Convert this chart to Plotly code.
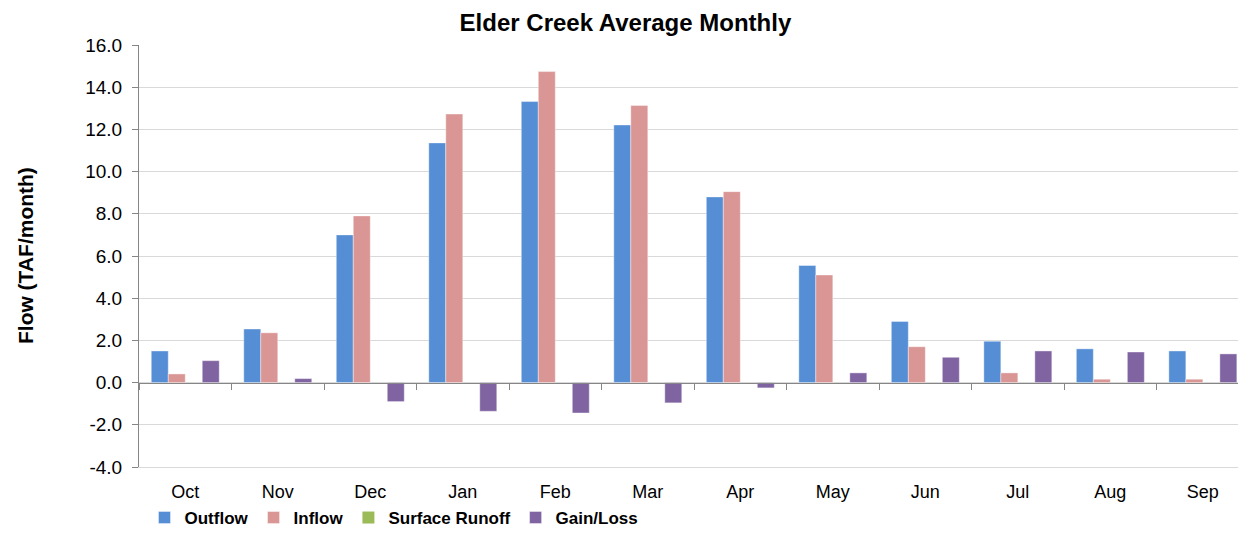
import plotly.graph_objects as go

FONT = "Arial, Liberation Sans, sans-serif"
GRID = "#D9D9D9"
AXIS = "#868686"

months = ["Oct", "Nov", "Dec", "Jan", "Feb", "Mar", "Apr", "May", "Jun", "Jul", "Aug", "Sep"]

outflow = [1.50, 2.54, 7.00, 11.36, 13.32, 12.21, 8.80, 5.55, 2.90, 1.96, 1.60, 1.50]
inflow = [0.41, 2.36, 7.90, 12.73, 14.74, 13.13, 9.05, 5.10, 1.70, 0.46, 0.16, 0.16]
surface_runoff = [0.0] * 12
gain_loss = [1.04, 0.19, -0.90, -1.36, -1.44, -0.96, -0.25, 0.46, 1.20, 1.50, 1.45, 1.36]

y_ticks = [-4, -2, 0, 2, 4, 6, 8, 10, 12, 14, 16]

series = [
    ("Outflow", outflow, "#558ED5"),
    ("Inflow", inflow, "#D99694"),
    ("Surface Runoff", surface_runoff, "#9BBB59"),
    ("Gain/Loss", gain_loss, "#8064A2"),
]

fig = go.Figure()
for name, vals, color in series:
    fig.add_trace(go.Bar(
        x=months, y=vals, name=name,
        marker=dict(color=color, line=dict(color="rgba(255,255,255,0.5)", width=0.8 if any(vals) else 0)),
    ))

# invisible trace so the zero-line axis gets its categories
fig.add_trace(go.Scatter(
    x=months, y=[0] * 12, xaxis="x2", mode="markers",
    marker=dict(opacity=0), showlegend=False, hoverinfo="skip",
))

# page body has an 8px margin, so the figure is a bit smaller than the window
x_range = [-0.5, 11.38]

fig.update_layout(
    width=1230, height=523,
    margin=dict(l=131, r=0, t=37, b=64, autoexpand=False),
    paper_bgcolor="white", plot_bgcolor="white",
    font=dict(family=FONT, color="#000000"),
    barmode="group", bargap=0.265, bargroupgap=0,
    title=dict(
        text="<b>Elder Creek Average Monthly</b>",
        font=dict(size=24, family=FONT, color="#000000"),
        x=0.502, xref="container", xanchor="center",
        y=0.988, yref="container", yanchor="top",
    ),
    xaxis=dict(
        type="category", categoryarray=months, range=x_range,
        showline=True, linecolor=GRID, linewidth=1,
        ticks="outside", ticklen=8, tickcolor="rgba(0,0,0,0)",
        tickfont=dict(size=18, family=FONT, color="#000000"),
        showgrid=False,
    ),
    xaxis2=dict(
        type="category", categoryarray=months, range=x_range,
        overlaying="x", anchor="free", position=0.2,
        showline=True, linecolor=AXIS, linewidth=1,
        ticks="outside", tickson="boundaries", ticklen=6, tickcolor=AXIS,
        showticklabels=False, showgrid=False,
    ),
    yaxis=dict(
        range=[-4, 16], tickvals=y_ticks, ticktext=[f"{v:.1f}" for v in y_ticks],
        showline=True, linecolor=AXIS, linewidth=1,
        ticks="outside", ticklen=6, tickcolor=AXIS,
        ticklabelstandoff=6,
        tickfont=dict(size=19, family=FONT, color="#000000"),
        showgrid=True, gridcolor=GRID, gridwidth=1,
        zeroline=False,
    ),
    legend=dict(
        orientation="h", x=0.005, xanchor="left",
        yref="container", y=0.0249, yanchor="middle",
        bgcolor="rgba(0,0,0,0)",
        font=dict(size=17, family=FONT, color="#000000", weight="bold"),
        itemwidth=30, traceorder="normal",
    ),
    annotations=[dict(
        text="<b>Flow (TAF/month)</b>",
        xref="paper", yref="paper", x=-0.1037, y=0.5,
        xanchor="center", yanchor="middle", textangle=-90,
        showarrow=False, font=dict(size=21, family=FONT, color="#000000"),
    )],
)

fig.write_html("out.html")
